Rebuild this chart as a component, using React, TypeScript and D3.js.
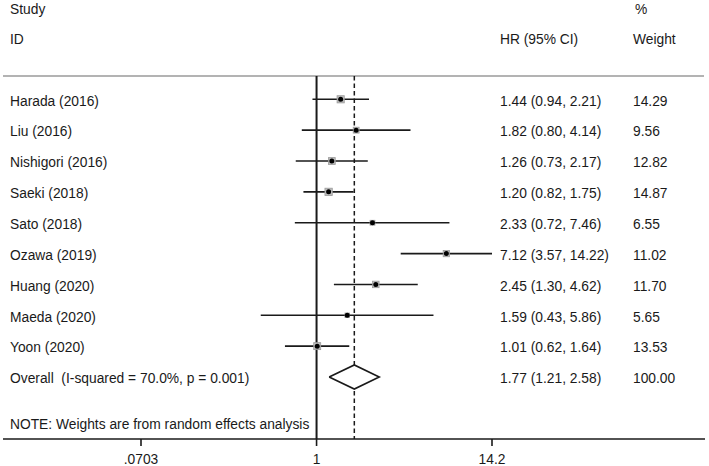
import React from "react";
import * as d3 from "d3";

const studies = ["Harada (2016)", "Liu (2016)", "Nishigori (2016)", "Saeki (2018)", "Sato (2018)", "Ozawa (2019)", "Huang (2020)", "Maeda (2020)", "Yoon (2020)"];
const hr = [1.44, 1.82, 1.26, 1.2, 2.33, 7.12, 2.45, 1.59, 1.01];
const lower = [0.94, 0.8, 0.73, 0.82, 0.72, 3.57, 1.3, 0.43, 0.62];
const upper = [2.21, 4.14, 2.17, 1.75, 7.46, 14.22, 4.62, 5.86, 1.64];
const weights = [14.29, 9.56, 12.82, 14.87, 6.55, 11.02, 11.7, 5.65, 13.53];
const overallLabel = "Overall  (I-squared = 70.0%, p = 0.001)";
const overall = { hr: 1.77, lower: 1.21, upper: 2.58, weight: 100.0 };
const tickValues = [0.0703, 1, 14.2];
const tickLabels = [".0703", "1", "14.2"];
const noteText = "NOTE: Weights are from random effects analysis";

const W = 709;
const H = 466;
const FONT = "'Liberation Sans', Arial, Helvetica, sans-serif";
const FS = 13.8;
const INK = "#1a1a1a";

export default function App() {
  const x = d3.scaleLog().domain([0.0703, 14.2]).range([141, 492]);
  const y = d3.scaleLinear().domain([0, 9]).range([99.3, 377]);
  const boxSize = (w: number) => 1.9 * Math.sqrt(w);
  const fmt = (v: number) => v.toFixed(2);
  const ciText = (h: number, l: number, u: number) => `${fmt(h)} (${fmt(l)}, ${fmt(u)})`;
  const topY = 76;
  const axisY = 439;
  const textX = 10;
  const hrX = 500;
  const wX = 633;
  const tdy = 1.8;

  const diamond = d3.line<[number, number]>()([
    [x(overall.lower), y(9)],
    [x(overall.hr), y(9) - 12],
    [x(overall.upper), y(9)],
    [x(overall.hr), y(9) + 12],
    [x(overall.lower), y(9)],
  ]);

  return (
    <svg width={W} height={H} style={{ position: "absolute", left: 0, top: 0, background: "#fff" }} fontFamily={FONT} fontSize={FS} fill={INK}>
      <rect x={0} y={0} width={W} height={H} fill="#fff" />
      {/* headers */}
      <text x={textX} y={14}>Study</text>
      <text x={textX} y={44}>ID</text>
      <text x={hrX} y={44}>HR (95% CI)</text>
      <text x={wX + 2} y={14}>%</text>
      <text x={wX} y={44}>Weight</text>
      <line x1={3} x2={704} y1={topY} y2={topY} stroke="#9a9a9a" strokeWidth={1.3} />

      {/* reference lines */}
      <line x1={x(1)} x2={x(1)} y1={topY} y2={axisY} stroke={INK} strokeWidth={2} />
      <line x1={x(overall.hr)} x2={x(overall.hr)} y1={topY} y2={axisY} stroke={INK} strokeWidth={1.5} strokeDasharray="4.5,3" />

      {/* studies */}
      {studies.map((s, i) => {
        const cy = y(i);
        const b = boxSize(weights[i]);
        return (
          <g key={s}>
            <text x={textX} y={cy + tdy} dominantBaseline="central">{s}</text>
            <line x1={x(lower[i])} x2={x(Math.min(upper[i], 14.2))} y1={cy} y2={cy} stroke={INK} strokeWidth={1.6} />
            <rect x={x(hr[i]) - b / 2} y={cy - b / 2} width={b} height={b} fill="#bdbdbd" stroke="#9a9a9a" strokeWidth={0.8} />
            <circle cx={x(hr[i])} cy={cy} r={2.5} fill="#000" />
            <text x={hrX} y={cy + tdy} dominantBaseline="central">{ciText(hr[i], lower[i], upper[i])}</text>
            <text x={wX} y={cy + tdy} dominantBaseline="central">{fmt(weights[i])}</text>
          </g>
        );
      })}

      {/* overall */}
      <text x={textX} y={y(9) + tdy} dominantBaseline="central" style={{ whiteSpace: "pre" }}>{overallLabel}</text>
      <path d={diamond ?? ""} fill="#fff" stroke={INK} strokeWidth={1.6} />
      <text x={hrX} y={y(9) + tdy} dominantBaseline="central">{ciText(overall.hr, overall.lower, overall.upper)}</text>
      <text x={wX} y={y(9) + tdy} dominantBaseline="central">{fmt(overall.weight)}</text>

      <text x={textX} y={424} dominantBaseline="central">{noteText}</text>

      {/* axis */}
      <line x1={3} x2={705} y1={axisY} y2={axisY} stroke={INK} strokeWidth={1.6} />
      {tickValues.map((t, i) => (
        <g key={t}>
          <line x1={x(t)} x2={x(t)} y1={axisY} y2={axisY + 7} stroke={INK} strokeWidth={1.6} />
          <text x={x(t)} y={464} textAnchor="middle">{tickLabels[i]}</text>
        </g>
      ))}
    </svg>
  );
}
